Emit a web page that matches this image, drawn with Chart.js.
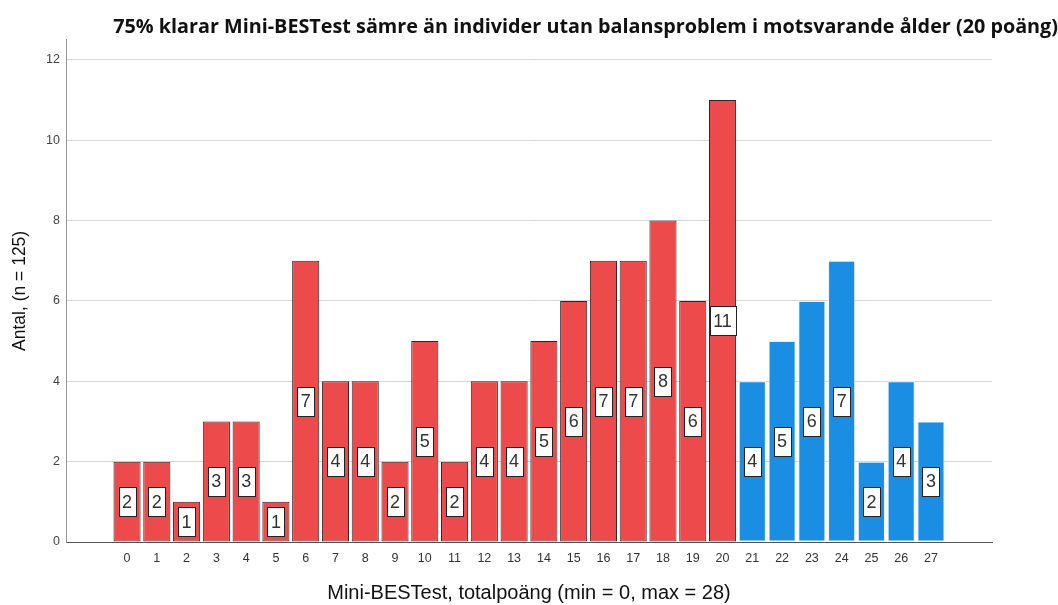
<!DOCTYPE html>
<html>
<head>
<meta charset="utf-8">
<script src="https://cdn.jsdelivr.net/npm/chart.js@4/dist/chart.umd.min.js"></script>
<style>
  body { margin: 0; background: #fff; }
  #wrap { width: 1058px; height: 605px; }
</style>
</head>
<body>
<div id="wrap"><canvas id="myChart" width="1058" height="605"></canvas></div>
<script>
// Mini-BESTest scores and counts
const scores = [0,1,2,3,4,5,6,7,8,9,10,11,12,13,14,15,16,17,18,19,20,21,22,23,24,25,26,27];
const counts = [2,2,1,3,3,1,7,4,4,2,5,2,4,4,5,6,7,7,8,6,11,4,5,6,7,2,4,3];
const cutoff = 20; // up to and including 20 = worse than age norm
const yTicks = [0,2,4,6,8,10,12];

const titleText = '75% klarar Mini-BESTest sämre än individer utan balansproblem i motsvarande ålder (20 poäng)';
const xTitle = 'Mini-BESTest, totalpoäng (min = 0, max = 28)';
const yTitle = 'Antal, (n = 125)';

const RED = '#ec4a4b', BLUE = '#1a8ee3';

// white boxes with the count in the middle of each bar
const boxLabels = {
    id: 'boxLabels',
    afterDatasetsDraw(chart) {
        const ctx = chart.ctx;
        const meta = chart.getDatasetMeta(0);
        ctx.save();
        ctx.font = '18px "Liberation Sans", Arial, sans-serif';
        ctx.textAlign = 'center';
        ctx.textBaseline = 'middle';
        meta.data.forEach((bar, i) => {
            const p = bar.getProps(['x', 'y', 'base'], true);
            const txt = String(counts[i]);
            const w = Math.round(ctx.measureText(txt).width + 7);
            const h = 29;
            let cy = (p.y + p.base) / 2;
            if (cy + h / 2 > p.base - 2) cy = p.base - 2 - h / 2;
            const bx = Math.round(p.x - w / 2) + 0.5, by = Math.round(cy - h / 2) + 0.5;
            ctx.fillStyle = '#fff';
            ctx.fillRect(bx, by, w, h);
            ctx.strokeStyle = '#222';
            ctx.lineWidth = 1;
            ctx.strokeRect(bx, by, w, h);
            ctx.fillStyle = '#333';
            ctx.fillText(txt, p.x, cy + 1);
        });
        ctx.restore();
    }
};

new Chart(document.getElementById('myChart'), {
    type: 'bar',
    data: {
        datasets: [{
            data: scores.map((s, i) => ({ x: s, y: counts[i] })),
            backgroundColor: scores.map(s => s <= cutoff ? RED : BLUE),
            borderColor: scores.map(s => s <= cutoff ? '#3b2222' : '#e6f1fb'),
            borderWidth: 1,
            borderSkipped: false,
            barPercentage: 0.91,
            categoryPercentage: 1
        }]
    },
    options: {
        responsive: false,
        animation: false,
        layout: { padding: 0 },
        plugins: {
            legend: { display: false },
            tooltip: { enabled: false },
            title: {
                display: true,
                text: titleText,
                align: 'end',
                color: '#111',
                font: { family: '"Open Sans", sans-serif', size: 19.8, weight: 'bold', lineHeight: 1.1 },
                padding: { top: 16, bottom: 2 }
            }
        },
        scales: {
            x: {
                type: 'linear',
                min: -2.05,
                max: 29.05,
                offset: false,
                grid: { display: false, drawTicks: false },
                border: { color: '#555', width: 1 },
                afterBuildTicks: (scale) => { scale.ticks = scores.map(v => ({ value: v })); },
                afterFit: (scale) => { scale.height = 63; },
                ticks: {
                    autoSkip: false,
                    maxRotation: 0,
                    padding: 9,
                    color: '#333',
                    font: { family: '"Liberation Sans", Arial, sans-serif', size: 12.5 }
                },
                title: {
                    display: true,
                    text: xTitle,
                    color: '#111',
                    padding: { top: 0, bottom: 0 },
                    font: { family: '"Liberation Sans", Arial, sans-serif', size: 20 }
                }
            },
            y: {
                min: 0,
                max: 12.5,
                afterBuildTicks: (scale) => { scale.ticks = yTicks.map(v => ({ value: v })); },
                afterFit: (scale) => { scale.width = 66; },
                grid: { color: '#d6d6d6', lineWidth: 1, drawTicks: false },
                border: { color: '#999', width: 1 },
                ticks: {
                    padding: 6,
                    color: '#444',
                    font: { family: '"Liberation Sans", Arial, sans-serif', size: 12.5 }
                },
                title: {
                    display: true,
                    text: yTitle,
                    color: '#111',
                    padding: { top: 10, bottom: 0 },
                    font: { family: '"Liberation Sans", Arial, sans-serif', size: 17.5 }
                }
            },
            // empty space on the right of the plot
            yRight: {
                position: 'right',
                display: true,
                grid: { display: false, drawTicks: false },
                border: { display: false },
                ticks: { display: false },
                afterFit: (scale) => { scale.width = 66; }
            }
        }
    },
    plugins: [boxLabels]
});
</script>
</body>
</html>
